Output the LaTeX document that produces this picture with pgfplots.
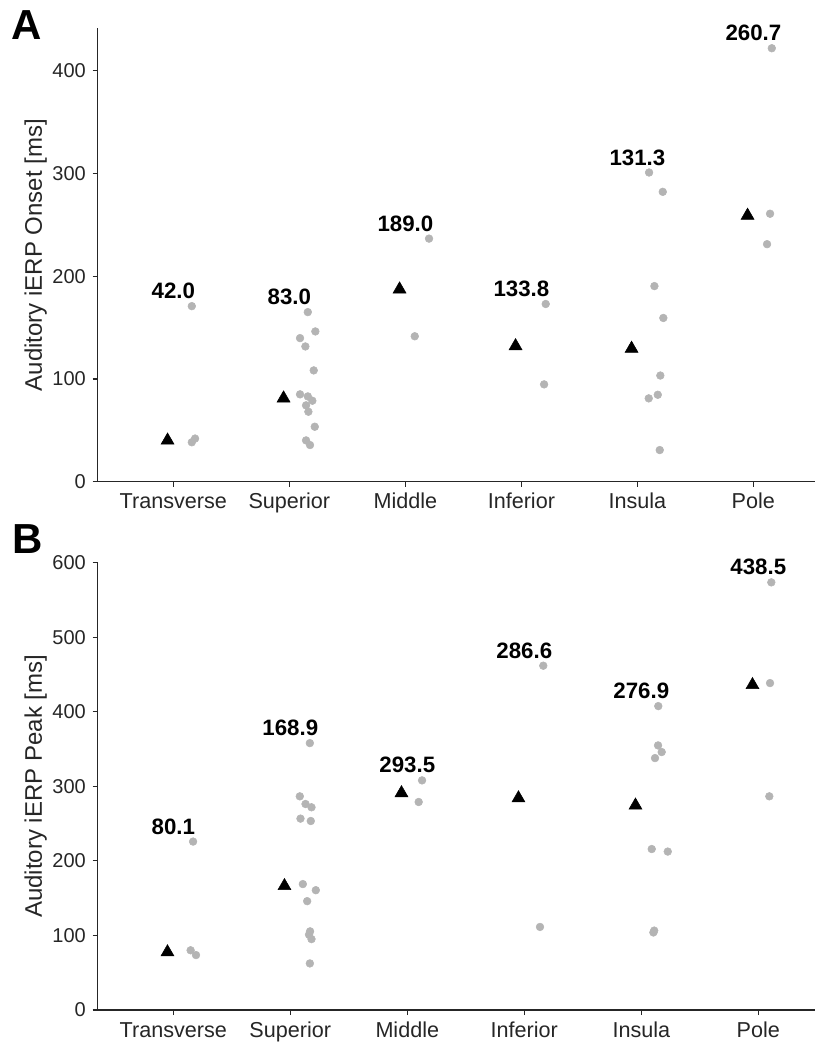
\documentclass[border=0pt]{standalone}
\usepackage{fontspec}
\setmainfont{Liberation Sans}
\usepackage{pgfplots}
\usepackage{pgfplotstable}
\pgfplotsset{compat=1.18}

\definecolor{dotgray}{RGB}{180,180,180}
\definecolor{spine}{RGB}{38,38,38}

% individual electrodes, panel A (onset)
\pgfplotstableread{
x y
0.159 170.8
0.159 38.4
0.187 42.0
1.159 165.0
1.224 146.2
1.092 139.7
1.138 131.6
1.210 108.3
1.092 85.0
1.159 83.0
1.198 78.8
1.144 74.3
1.164 68.1
1.219 53.5
1.144 40.2
1.178 35.7
2.204 236.5
2.081 141.5
3.210 172.9
3.196 94.7
4.101 300.8
4.219 282.0
4.147 190.3
4.224 159.3
4.198 103.3
4.176 84.6
4.098 81.1
4.193 30.8
5.159 421.7
5.144 260.7
5.118 231.1
}\dotsA

% medians, panel A
\pgfplotstableread{
xm med xl top
-0.05 42.0 0 170.8
0.95 83.0 1 165.0
1.95 189.0 2 236.5
2.95 133.8 3 172.9
3.95 131.3 4 300.8
4.95 260.7 5 421.7
}\medA

% individual electrodes, panel B (peak)
\pgfplotstableread{
x y
0.169 225.9
0.148 80.1
0.194 73.7
1.167 358.0
1.081 286.6
1.130 276.3
1.181 271.9
1.087 256.7
1.175 253.5
1.107 168.9
1.218 160.7
1.144 146.0
1.169 105.5
1.160 101.0
1.181 95.1
1.167 62.5
2.126 308.0
2.097 279.0
3.162 461.8
3.134 111.4
4.145 407.6
4.143 354.9
4.174 346.0
4.117 337.9
4.089 215.9
4.226 212.5
4.103 104.0
4.110 106.5
5.111 573.6
5.100 438.5
5.094 286.6
}\dotsB

% medians, panel B
\pgfplotstableread{
xm med xl top
-0.05 80.1 0 225.9
0.95 168.9 1 358.0
1.95 293.5 2 308.0
2.95 286.6 3 461.8
3.95 276.9 4 407.6
4.95 438.5 5 573.6
}\medB

\pgfplotsset{
  panel/.style={
    scale only axis,
    width=538pt,
    axis x line*=bottom,
    axis y line*=left,
    axis line style={spine, line width=1pt},
    tick style={spine, line width=0.9pt},
    tick align=outside,
    major tick length=3.75pt,
    xtick={0,...,5},
    xticklabels={Transverse,Superior,Middle,Inferior,Insula,Pole},
    ymin=0,
    clip=false,
    /pgf/number format/assume math mode=true,
    yticklabel style={font=\fontsize{15}{18}\selectfont, text=spine,
      anchor=east, inner sep=0pt, xshift=-5pt},
    xticklabel style={font=\fontsize{16.2}{19}\selectfont, text=spine,
      anchor=base, inner sep=0pt, yshift=-16.6pt},
    ylabel style={font=\fontsize{18}{21}\selectfont, text=spine,
      at={(axis description cs:-0.078,0.5)}, anchor=base},
  },
  dots/.style={only marks, mark=*, mark size=2.9pt, color=dotgray},
  med/.style={only marks, mark=triangle*, mark size=5.6pt, color=black,
    mark options={yshift=-1.4pt}},
  medlabel/.style={only marks, mark=none, nodes near coords,
    point meta=explicit symbolic,
    nodes near coords style={font=\fontsize{16.7}{19}\selectfont\bfseries,
      text=black, anchor=base, inner sep=0pt, yshift=5.6pt}},
}

\begin{document}
\begin{tikzpicture}
\useasboundingbox (-73.3pt,-421.7pt) rectangle (538pt,361.3pt);

\begin{axis}[panel, at={(0pt,0pt)}, anchor=south west,
  height=340pt, xmin=-0.652, xmax=5.532, ymax=441,
  ytick={0,100,200,300,400},
  yticklabels={0,100,200,300,400},
  ylabel={Auditory iERP Onset [ms]}]
  \addplot[dots] table[x=x, y=y] {\dotsA};
  \addplot[med] table[x=xm, y=med] {\medA};
  \addplot[medlabel] table[x=xl, y=top, meta=med] {\medA};
  \node[anchor=base west, inner sep=0pt, font=\fontsize{31.5}{34}\selectfont\bfseries]
    at (rel axis cs:-0.12,0.975) {A};
\end{axis}

\begin{axis}[panel, at={(0pt,-396.2pt)}, anchor=south west,
  height=335.5pt, xmin=-0.646, xmax=5.485, ymax=600,
  ytick={0,100,200,300,400,500,600},
  yticklabels={0,100,200,300,400,500,600},
  ylabel={Auditory iERP Peak [ms]}]
  \addplot[dots] table[x=x, y=y] {\dotsB};
  \addplot[med] table[x=xm, y=med] {\medB};
  \addplot[medlabel] table[x=xl, y=top, meta=med] {\medB};
  \node[anchor=base west, inner sep=0pt, font=\fontsize{31.5}{34}\selectfont\bfseries]
    at (rel axis cs:-0.1185,1.0194) {B};
\end{axis}
\end{tikzpicture}
\end{document}
